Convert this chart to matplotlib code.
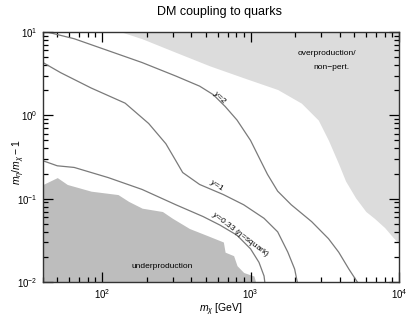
import matplotlib
matplotlib.use("Agg")
import matplotlib.pyplot as plt

plt.rcParams['font.family'] = ['Liberation Sans', 'DejaVu Sans']
plt.rcParams['mathtext.fontset'] = 'custom'
plt.rcParams['mathtext.rm'] = 'Liberation Sans'
plt.rcParams['mathtext.it'] = 'Liberation Sans:italic'

# contour lines of the coupling y (m_chi [GeV], m_eta/m_chi - 1)
y2_mx = [40, 42.6, 64.9, 110, 186, 314, 454, 561, 674, 811, 1000, 1170, 1300, 1523, 1880, 2580, 3350, 3925, 4595, 5240]
y2_dm = [10.2, 10, 8.30, 5.97, 4.30, 2.96, 2.24, 1.77, 1.28, 0.877, 0.500, 0.285, 0.196, 0.123, 0.0845, 0.0530, 0.0331, 0.0228, 0.0143, 0.01]

y1_mx = [40, 52.6, 84.3, 143, 206, 269, 314, 349, 454, 656, 899, 1233, 1523, 1783, 1982, 2064]
y1_dm = [4.30, 3.25, 2.13, 1.40, 0.798, 0.456, 0.285, 0.206, 0.148, 0.112, 0.0845, 0.0581, 0.0400, 0.0228, 0.0143, 0.01]

y033_mx = [40, 49.9, 64.9, 110, 186, 314, 479, 622, 811, 1000, 1140, 1233, 1247]
y033_dm = [0.285, 0.248, 0.237, 0.179, 0.129, 0.0845, 0.0610, 0.0482, 0.0364, 0.0250, 0.0172, 0.0118, 0.01]

# excluded regions
under_mx = [40, 49.9, 58.3, 84.3, 128, 151, 186, 255, 298, 388, 505, 656, 674, 769, 811, 899, 1054, 1081]
under_dm = [0.148, 0.179, 0.148, 0.123, 0.112, 0.0927, 0.0769, 0.0701, 0.0581, 0.0438, 0.0364, 0.0302, 0.0228, 0.0207, 0.0157, 0.0130, 0.0118, 0.01]

over_mx = [135, 186, 314, 532, 899, 1523, 2200, 2860, 3350, 3925, 4365, 5105, 5980, 6825, 8000, 9160, 10000]
over_dm = [10, 8.30, 5.70, 3.92, 2.82, 2.04, 1.40, 0.877, 0.500, 0.260, 0.163, 0.102, 0.0701, 0.0581, 0.0450, 0.0340, 0.0290]

fig = plt.figure(figsize=(4.07, 3.2), dpi=100)
ax = fig.add_axes([43 / 407, 1 - 282 / 320, 356 / 407, 250 / 320])

xmin, xmax = 40, 1e4
ymin, ymax = 1e-2, 10

ax.fill_between(under_mx, ymin, under_dm, color='#bdbdbd', lw=0)
ax.fill_between(over_mx, over_dm, ymax, color='#dcdcdc', lw=0)

line_kw = dict(color='#7a7a7a', lw=0.9)
ax.plot(y2_mx, y2_dm, **line_kw)
ax.plot(y1_mx, y1_dm, **line_kw)
ax.plot(y033_mx, y033_dm, **line_kw)

ax.set_xscale('log')
ax.set_yscale('log')
ax.set_xlim(xmin, xmax)
ax.set_ylim(ymin, ymax)

ax.text(622, 1.62, '$y$=2', fontsize=6, rotation=-45, ha='center', va='center')
ax.text(590, 0.142, '$y$=1', fontsize=6, rotation=-33, ha='center', va='center')
ax.text(853, 0.037, r'$y$=0.33 ($\eta$=squark)', fontsize=6, rotation=-37,
        ha='center', va='center')
ax.text(3265, 5.45, 'overproduction/', fontsize=6, ha='center', va='center')
ax.text(3500, 3.74, 'non\u2212pert.', fontsize=6, ha='center', va='center')
ax.text(255, 0.0152, 'underproduction', fontsize=6, ha='center', va='center')

ax.tick_params(which='both', direction='in', top=True, right=True, labelsize=7, width=0.9)
ax.tick_params(which='major', length=7, pad=4)
ax.tick_params(which='minor', length=3.5)
for s in ax.spines.values():
    s.set_linewidth(1.0)
    s.set_color('#333333')

ax.set_xlabel(r'$m_\chi$ [GeV]', fontsize=7.5, labelpad=0)
ax.set_ylabel(r'$m_\eta/m_\chi-1$', fontsize=7.5)
ax.yaxis.set_label_coords(-0.045, 0.48)
fig.text(0.54, 0.962, 'DM coupling to quarks', fontsize=9, ha='center', va='center')

fig.savefig('out.png', dpi=100)
